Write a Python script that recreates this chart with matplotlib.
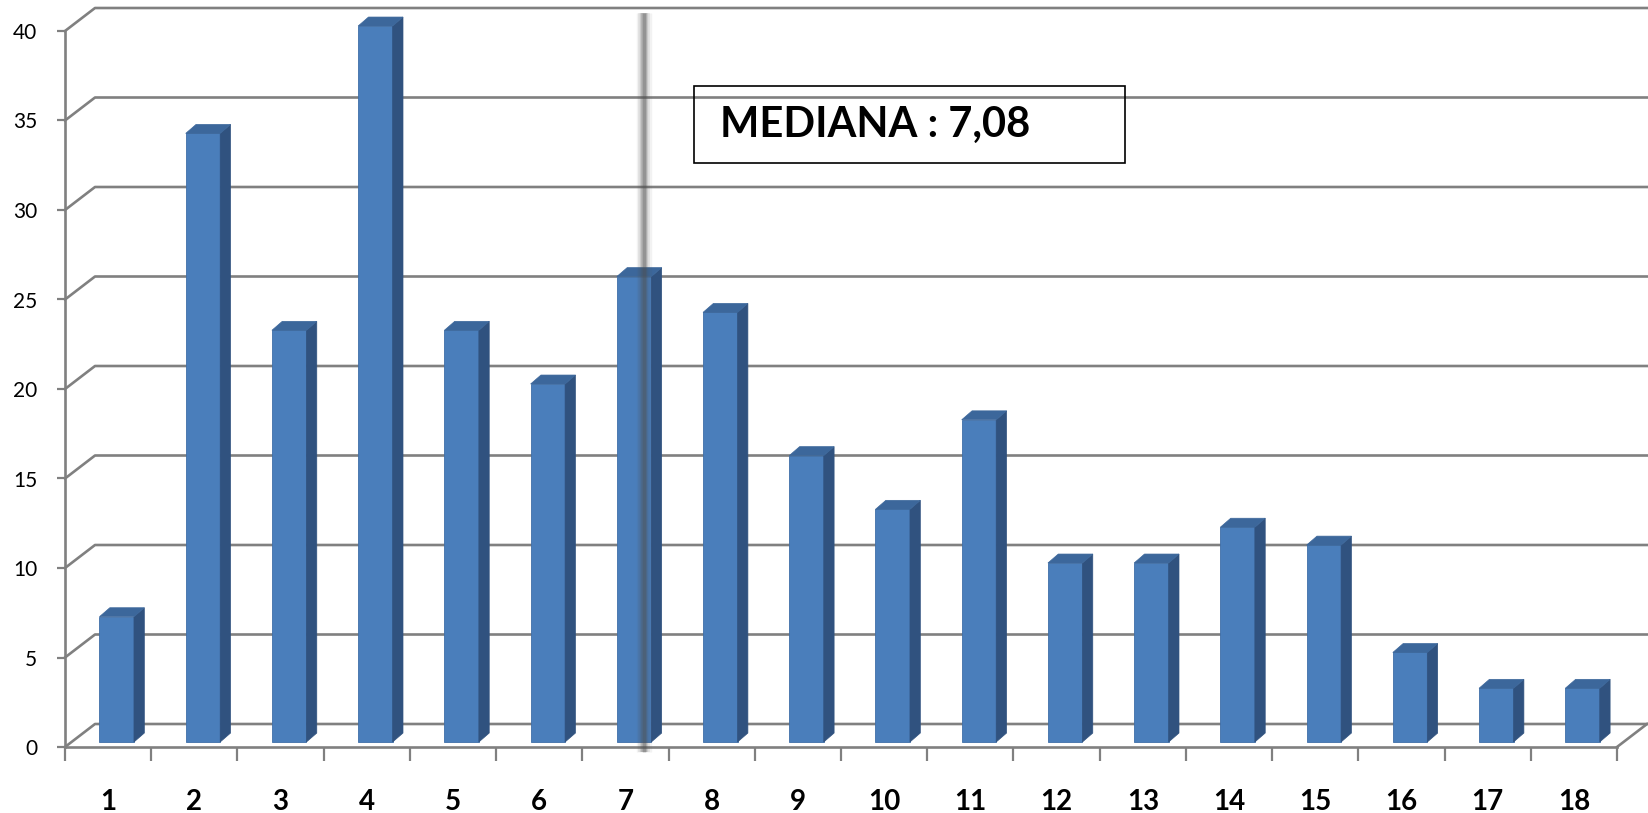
import numpy as np
import matplotlib
matplotlib.use('Agg')
import matplotlib.pyplot as plt
from matplotlib.patches import Polygon, Rectangle

# Datos
categorias = list(range(1, 19))
frecuencias = [7, 34, 23, 40, 23, 20, 26, 24, 16, 13, 18, 10, 10, 12, 11, 5, 3, 3]
yticks = [0, 5, 10, 15, 20, 25, 30, 35, 40]
mediana = 7.08

# Colores estilo Excel 3D
c_frente = '#4a7ebb'
c_lado = '#30527f'
c_tapa = '#3c679b'
c_grid = '#808080'

fig = plt.figure(figsize=(16.48, 8.13), dpi=100)
W, H = 1648, 813
ax = fig.add_axes([65 / W, (H - 747) / H, (1617 - 65) / W, (747 - 31) / H])
ax.set_xlim(0.5, 18.5)
ax.set_ylim(0, 40)

# profundidad de la pared (en unidades de datos)
px_x = (1617 - 65) / 18
px_y = (747 - 31) / 40
Dx = 30 / px_x
Dy = 23 / px_y

# lineas de la cuadricula (pared lateral + pared de fondo)
for v in yticks:
    ax.plot([0.5, 0.5 + Dx, 18.5 + Dx], [v, v + Dy, v + Dy], color=c_grid,
            lw=1.9, clip_on=False, zorder=1)
# borde derecho del suelo
ax.plot([18.5, 18.5 + Dx], [0, Dy], color=c_grid, lw=1.9, clip_on=False, zorder=1)

# barras 3D
w = 0.40
sx, sy = 0.10, 0.28      # desplazamiento de la cara frontal
ddx, ddy = 0.12, 0.50    # profundidad de la barra
x = np.array(categorias, dtype=float)
ax.bar(x + sx, frecuencias, bottom=sy, width=w, color=c_frente, zorder=3,
       edgecolor='#3f6fa8', linewidth=0.6, clip_on=False)
for xi, v in zip(x, frecuencias):
    xr = xi + sx + w / 2
    xl = xi + sx - w / 2
    lado = Polygon([(xr, sy), (xr + ddx, sy + ddy), (xr + ddx, v + sy + ddy), (xr, v + sy)],
                   closed=True, facecolor=c_lado, edgecolor=c_lado, lw=0.5, zorder=3, clip_on=False)
    tapa = Polygon([(xl, v + sy), (xr, v + sy), (xr + ddx, v + sy + ddy), (xl + ddx, v + sy + ddy)],
                   closed=True, facecolor=c_tapa, edgecolor=c_tapa, lw=0.5, zorder=3, clip_on=False)
    ax.add_patch(lado)
    ax.add_patch(tapa)

# linea de la mediana (difuminada), a la profundidad de las barras
xm = mediana + sx + ddx / 4
for lw, a in [(11, 0.07), (8.5, 0.10), (6, 0.16), (4, 0.22), (2.5, 0.28)]:
    ax.plot([xm, xm], [-0.3, 41.0], color='#505050', lw=lw, alpha=a,
            solid_capstyle='butt', clip_on=False, zorder=5)

# cuadro de texto
x0 = 0.5 + (694 - 65) / px_x
x1 = 0.5 + (1125 - 65) / px_x
y0 = (747 - 163) / px_y
y1 = (747 - 86) / px_y
ax.add_patch(Rectangle((x0, y0), x1 - x0, y1 - y0, fill=False, edgecolor='black',
                       lw=1.2, zorder=6, clip_on=False))
ax.text(0.5 + (720 - 65) / px_x, (y0 + y1) / 2, 'MEDIANA : ' + f'{mediana:.2f}'.replace('.', ','),
        fontsize=30, fontweight='bold', family='Lato', va='center', ha='left', zorder=6)

# ejes
for s in ['top', 'right']:
    ax.spines[s].set_visible(False)
for s in ['left', 'bottom']:
    ax.spines[s].set_color(c_grid)
    ax.spines[s].set_linewidth(1.9)
ax.set_yticks(yticks)
ax.set_yticklabels([str(t) for t in yticks], fontsize=15, family='Lato')
ax.tick_params(axis='y', length=6, width=1.6, color=c_grid, pad=14)
ax.set_xticks(x)
ax.set_xticklabels([str(c) for c in categorias], fontsize=20, fontweight='bold', family='Lato')
ax.set_xticks(np.arange(0.5, 19, 1), minor=True)
ax.tick_params(axis='x', which='major', length=0, pad=30)
ax.tick_params(axis='x', which='minor', length=10, width=1.6, color=c_grid)
ax.set_facecolor('none')

plt.savefig('out.png', dpi=100)
